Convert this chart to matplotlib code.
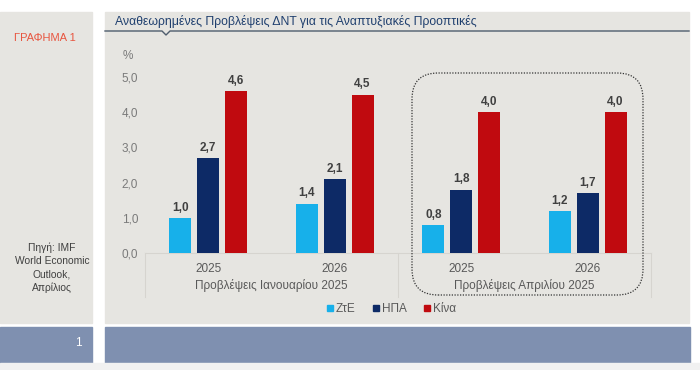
import matplotlib
matplotlib.use("Agg")
import matplotlib.pyplot as plt
from matplotlib.patches import Rectangle, FancyBboxPatch
from matplotlib.lines import Line2D
from matplotlib.transforms import IdentityTransform
import numpy as np

plt.rcParams['font.family'] = ['Liberation Sans', 'DejaVu Sans']

# ---- data ----
years = ["2025", "2026", "2025", "2026"]
groups = ["Προβλέψεις Ιανουαρίου 2025", "Προβλέψεις Απριλίου 2025"]
series = ["ΖτΕ", "ΗΠΑ", "Κίνα"]
zte = [1.0, 1.4, 0.8, 1.2]
usa = [2.7, 2.1, 1.8, 1.7]
china = [4.6, 4.5, 4.0, 4.0]
colors = ["#17b0ea", "#0d2a66", "#c00a0f"]
yticks = [0, 1, 2, 3, 4, 5]

title = "Αναθεωρημένες Προβλέψεις ΔΝΤ για τις Αναπτυξιακές Προοπτικές"
chart_label = "ΓΡΑΦΗΜΑ 1"
source = "Πηγή: IMF\nWorld Economic\nOutlook,\nΑπρίλιος"

W, H = 700, 370
fig = plt.figure(figsize=(7, 3.7), dpi=100)
fig.patch.set_facecolor('white')

def fx(x):
    return x / W

def fy(y):
    return 1 - y / H

def rect(x0, y0, x1, y1, color, z=-1):
    fig.patches.append(Rectangle((fx(x0), fy(y1)), fx(x1) - fx(x0), (y1 - y0) / H,
                                 transform=fig.transFigure, color=color, zorder=z))

bg = '#e6e5e1'
bar_bg = '#7f90b0'
rect(0, 12, 92, 323, bg)
rect(105, 12, 689, 323, bg)
rect(0, 327, 92, 363, bar_bg)
rect(105, 327, 690, 363, bar_bg)
rect(0, 363, 700, 370, '#f1f1f1')

fig.text(fx(14), fy(38), chart_label, color='#e8553f', fontsize=8, va='center', ha='left')
fig.text(fx(52), fy(268), source, color='#404040', fontsize=7.4, va='center', ha='center',
         linespacing=1.4)
fig.text(fx(82), fy(343), "1", color='white', fontsize=8.5, va='center', ha='right')

fig.text(fx(115), fy(22), title, color='#1f3f6e', fontsize=8.8, va='center', ha='left')
pts = [(105, 31), (162, 31), (166, 35), (170, 31), (689, 31)]
fig.lines.append(Line2D([fx(p[0]) for p in pts], [fy(p[1]) for p in pts],
                        transform=fig.transFigure, color='#4f5d6d', lw=1.0))

# ---- axes ----
ax = fig.add_axes([fx(145), fy(253), fx(651) - fx(145), (253 - 77) / H])
ax.set_facecolor('none')
x = np.arange(len(years))
offs = [-0.22, 0.0, 0.22]
width = 0.175
for vals, off, col, name in zip([zte, usa, china], offs, colors, series):
    bars = ax.bar(x + off, vals, width, color=col, label=name, zorder=3)
    for b, v in zip(bars, vals):
        ax.text(b.get_x() + b.get_width() / 2, v + 0.12, f"{v:.1f}".replace('.', ','),
                ha='center', va='bottom', fontsize=8.5, fontweight='bold', color='#404040')

ax.set_xlim(-0.5, len(years) - 0.5)
ax.set_ylim(0, 5)
ax.set_yticks(yticks)
ax.set_yticklabels([f"{v:.1f}".replace('.', ',') for v in yticks], color='#7a7a7a', fontsize=8.5)
ax.tick_params(axis='y', length=0, pad=5)
ax.set_xticks(x)
ax.set_xticklabels(years, color='#595959', fontsize=8.5)
ax.tick_params(axis='x', length=0, pad=7)
for s in ['top', 'right', 'left']:
    ax.spines[s].set_visible(False)
ax.spines['bottom'].set_color('#d6d4cf')
ax.spines['bottom'].set_linewidth(0.8)

for i, g in enumerate(groups):
    ax.text(0.5 + 2 * i, -0.185, g, transform=ax.get_xaxis_transform(), ha='center', va='center',
            fontsize=8.5, color='#595959')
for gx in [-0.5, 1.5, 3.5]:
    ax.plot([gx, gx], [0, -0.25], transform=ax.get_xaxis_transform(), clip_on=False,
            color='#d6d4cf', lw=0.8)

fig.text(fx(128), fy(56), "%", color='#7a7a7a', fontsize=8.5, ha='center', va='center')

# dotted rounded box around April forecasts
box = FancyBboxPatch((412, H - 295), 231, 222, boxstyle="round,pad=0,rounding_size=26",
                     transform=IdentityTransform(), fill=False, edgecolor='#333333',
                     linestyle=(0, (1, 1.2)), lw=0.9, zorder=5)
fig.patches.append(box)

handles = [Line2D([], [], marker='s', linestyle='none', color=c, markersize=5) for c in colors]
fig.legend(handles, series, loc='center', bbox_to_anchor=(fx(390), fy(309)), ncol=3,
           frameon=False, fontsize=8.5, handletextpad=0.0, columnspacing=1.2,
           handlelength=1.0, labelcolor='#595959')

fig.savefig("out.png", dpi=100, facecolor=fig.get_facecolor())
